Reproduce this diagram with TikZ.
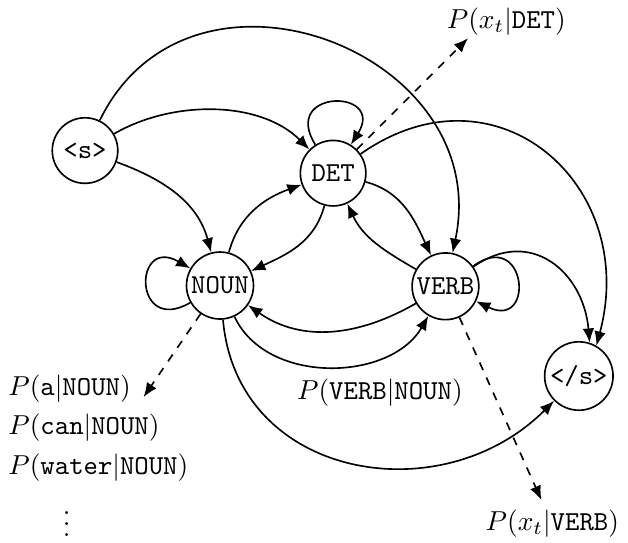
\documentclass[tikz,border=0pt]{standalone}
\usepackage{amsmath}
\usepackage{tikz}
\usetikzlibrary{arrows.meta}

\begin{document}
\begin{tikzpicture}[>={Latex[length=5.2pt,width=4.2pt]},semithick,
    state/.style={circle,draw,inner sep=1pt,minimum size=0.84cm,font=\ttfamily},
    self/.style={loop,min distance=8.5mm},
    emit/.style={->,dashed}]

    \useasboundingbox (0,0) rectangle (8.05,6.95);

%the states
    \node[state] (start) at (1.09,5.02) {<s>};
    \node[state] (det) at (4.27,4.73) {DET};
    \node[state] (noun) at (2.82,3.29) {NOUN};
    \node[state] (verb) at (5.71,3.28) {VERB};
    \node[state] (stop) at (7.42,2.13) {</s>};

%the labels
    \node (detx) at (6.49,6.67) {$P(x_t|\texttt{DET})$};
    \node (verbx) at (7.08,0.24) {$P(x_t|\texttt{VERB})$};
    \node (trans) at (4.87,1.92) {$P(\texttt{VERB}|\texttt{NOUN})$};
    \node[anchor=west] (na) at (-0.02,1.97) {$P(\texttt{a}|\texttt{NOUN})$};
    \node[anchor=west] (ncan) at (-0.02,1.47) {$P(\texttt{can}|\texttt{NOUN})$};
    \node[anchor=west] (nwater) at (-0.02,0.96) {$P(\texttt{water}|\texttt{NOUN})$};
    \node (ndots) at (0.855,0.34) {$\vdots$};

    \coordinate (detend) at (6.00,6.46);
    \coordinate (verbend) at (6.94,0.54);
    \coordinate (nounend) at (1.84,1.86);

%transitions
    \draw[->] (start) to[out=64,in=78,looseness=1.4] (verb);
    \draw[->] (start) to[out=30,in=135,looseness=0.9] (det);
    \draw[->] (start) to[out=-20,in=105] (noun);
    \draw[->] (det) to[out=-15,in=115] (verb);
    \draw[->] (det) to[out=-105,in=25] (noun);
    \draw[->] (noun) to[out=75,in=200] (det);
    \draw[->] (verb) to[out=150,in=-65] (det);
    \draw[->] (verb) to[out=210,in=-35] (noun);
    \draw[->] (noun) to[out=-65,in=240] (verb);
    \draw[->] (noun) to[out=-85,in=225,looseness=1.2] (stop);
    \draw[->] (det) to[out=35,in=75,looseness=1.4] (stop.60);
    \draw[->] (verb) to[out=35,in=95,looseness=1.3] (stop.72);
% self loops
    \draw[->] (det) to[self,out=122,in=58] (det);
    \draw[->] (verb) to[self,out=36,in=-26] (verb);
    \draw[->] (noun) to[self,out=210,in=150] (noun);

%emissions
    \draw[emit] (det) -- (detend);
    \draw[emit] (verb) -- (verbend);
    \draw[emit] (noun) -- (nounend);
\end{tikzpicture}
\end{document}
